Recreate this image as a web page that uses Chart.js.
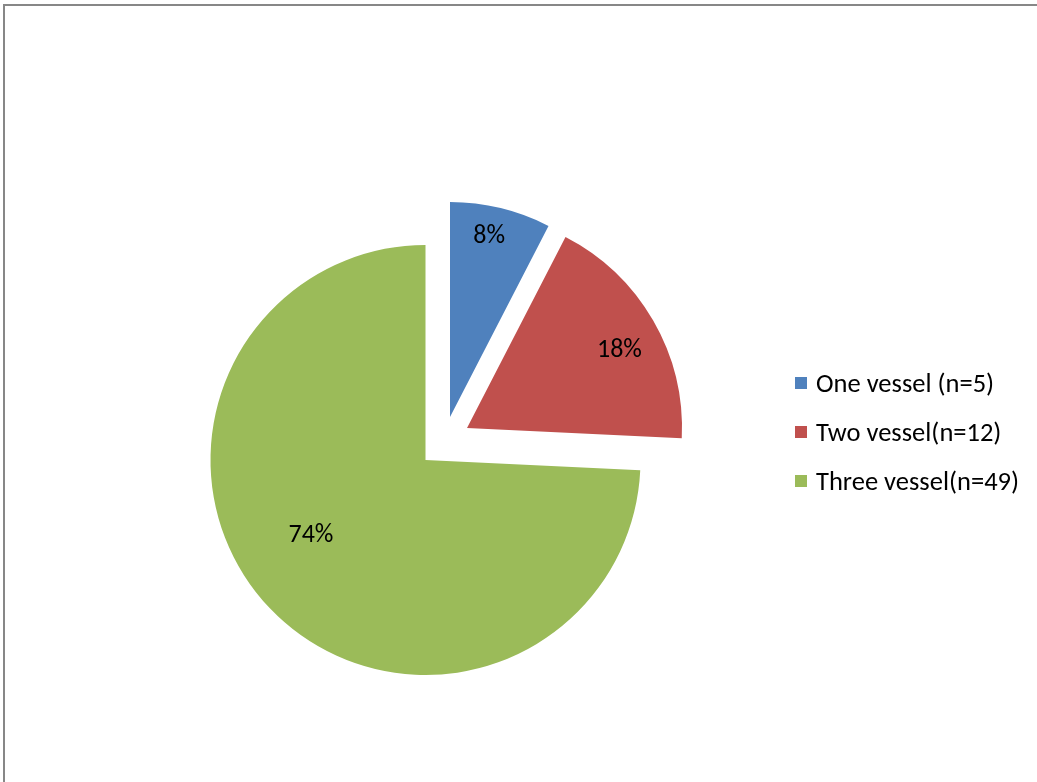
<!DOCTYPE html>
<html>
<head>
<meta charset="utf-8">
<script src="https://cdn.jsdelivr.net/npm/chart.js@4"></script>
<style>
  html, body { margin: 0; padding: 0; background: #fff; overflow: hidden; }
  #wrap { position: relative; width: 1037px; height: 782px; }
  #frame { position: absolute; left: 3px; top: 4px; width: 1100px; height: 900px;
           border-left: 2px solid #878787; border-top: 2px solid #878787; }
  canvas { position: absolute; left: 0; top: 0; }
</style>
</head>
<body>
<div id="wrap">
  <div id="frame"></div>
  <canvas id="c" width="1037" height="782"></canvas>
</div>
<script>
// ---- data ----
const categories = ["One vessel (n=5)", "Two vessel(n=12)", "Three vessel(n=49)"];
const counts = [5, 12, 49];
const percentLabels = ["8%", "18%", "74%"];

// ---- style ----
const colors = ["#4F81BD", "#C0504D", "#9BBB59"];
const explode = [[24.5, -43], [41.5, -32], [0, 0]];       // slice displacement (px)
const labelPlace = [[0.866, -1.5], [0.80, 2.4], [0.632, 11.1]]; // [radius fraction, angle shift deg]
const LABEL_FONT = '26px Carlito, Calibri, Lato, sans-serif';
const LEGEND_FONT = '26.5px Carlito, Calibri, Lato, sans-serif';

const explodePlugin = {
  id: 'explode',
  afterDatasetUpdate(chart) {
    chart.getDatasetMeta(0).data.forEach((arc, i) => {
      if (!arc._wrapped) {
        const orig = arc.draw;
        arc.draw = function (ctx) {
          ctx.save();
          ctx.translate(explode[i][0], explode[i][1]);
          orig.call(this, ctx);
          ctx.restore();
        };
        arc._wrapped = true;
      }
    });
  },
  afterDatasetsDraw(chart) {
    const ctx = chart.ctx;
    const meta = chart.getDatasetMeta(0);
    ctx.save();
    ctx.font = LABEL_FONT;
    ctx.fillStyle = '#000';
    ctx.textAlign = 'center';
    ctx.textBaseline = 'middle';
    meta.data.forEach((arc, i) => {
      const p = arc.getProps(['x', 'y', 'startAngle', 'endAngle', 'outerRadius'], true);
      const a = (p.startAngle + p.endAngle) / 2 + labelPlace[i][1] * Math.PI / 180;
      const d = p.outerRadius * labelPlace[i][0];
      ctx.fillText(percentLabels[i], p.x + explode[i][0] + Math.cos(a) * d,
                   p.y + explode[i][1] + Math.sin(a) * d + 2);
    });
    // legend
    const lx = 795, ly = 383, step = 49, box = 12;
    ctx.font = LEGEND_FONT;
    ctx.textAlign = 'left';
    categories.forEach((c, i) => {
      const y = ly + i * step;
      ctx.fillStyle = colors[i];
      ctx.fillRect(lx, y - box / 2, box, box);
      ctx.fillStyle = '#000';
      ctx.fillText(c, lx + 21, y + 2);
    });
    ctx.restore();
  }
};

new Chart(document.getElementById('c'), {
  type: 'pie',
  data: {
    labels: categories,
    datasets: [{
      data: counts,
      backgroundColor: colors,
      borderWidth: 0,
      radius: 215
    }]
  },
  options: {
    responsive: false,
    animation: false,
    layout: { padding: { left: 0, right: 186, top: 138, bottom: 0 } },
    plugins: { legend: { display: false }, tooltip: { enabled: false } }
  },
  plugins: [explodePlugin]
});
</script>
</body>
</html>
